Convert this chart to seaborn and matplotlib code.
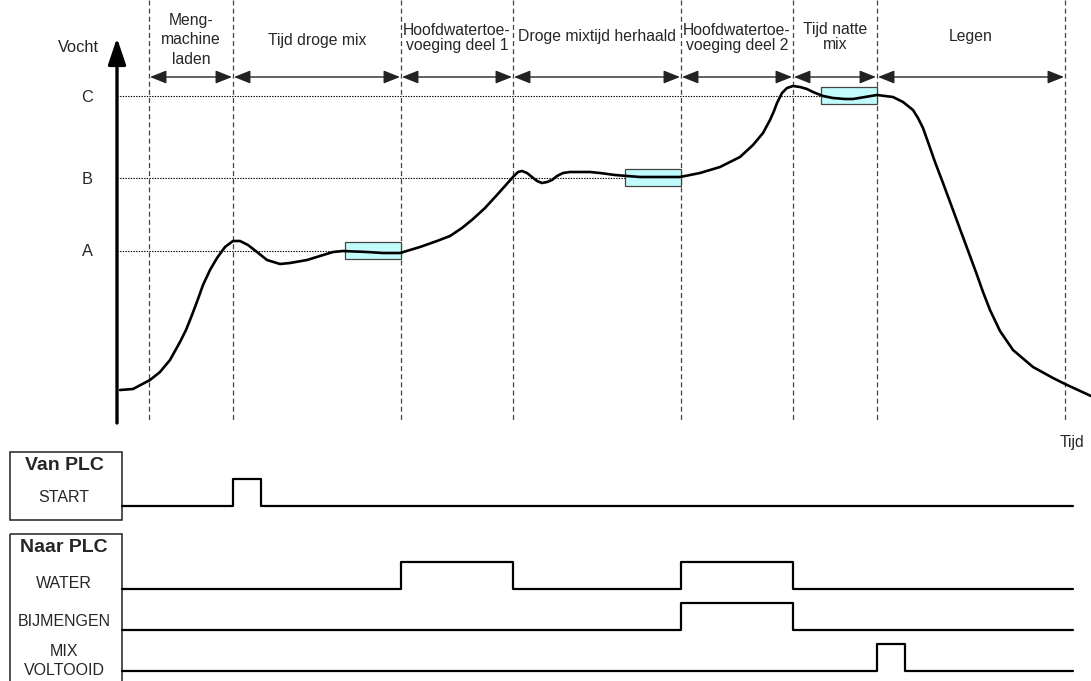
import matplotlib
matplotlib.use("Agg")
import matplotlib.pyplot as plt
import seaborn as sns
from matplotlib.patches import Rectangle

# ================= DATA (beeldcoordinaten) =================
# fasegrenzen op de tijdas
PHASE_X = [149, 233, 401, 513, 681, 793, 877, 1065]
PHASE_LABELS = ["Meng-\nmachine\nladen", "Tijd droge mix", "Hoofdwatertoe-\nvoeging deel 1",
                "Droge mixtijd herhaald", "Hoofdwatertoe-\nvoeging deel 2", "Tijd natte\nmix",
                "Legen"]
PHASE_LABEL_Y = [40, 40, 38, 36, 38, 37, 37]
PHASE_SPACING = [1.35, 1.0, 1.08, 1.0, 1.08, 1.08, 1.0]

# vochtniveaus A, B, C en de stabiele zones (vakjes)
LEVEL_NAMES = ["A", "B", "C"]
LEVEL_Y = [251, 178, 96]
BOX_X0 = [345, 625, 821]
BOX_X1 = [401, 681, 877]

# vochtcurve
CURVE_T = [120, 133, 150, 160, 170, 180, 186, 192, 198, 203, 210, 217, 225, 233, 240, 248,
           257, 267, 280, 290, 307, 320, 333, 343, 367, 383, 400, 420, 437, 450, 462,
           473, 485, 496, 505, 513, 518, 522, 527, 532, 537, 542, 547, 552, 557, 563, 570,
           577, 590, 600, 615, 627, 640, 653, 667, 680, 700, 720, 740, 753, 763, 770, 774,
           777, 782, 787, 793, 800, 807, 813, 823, 833, 845, 853, 865, 877, 893, 903, 913,
           918, 923, 928, 935, 943, 953, 960, 970, 977, 983, 990, 1000, 1013, 1033, 1053,
           1065, 1078, 1091]
CURVE_V = [390, 389, 380, 372, 360, 342, 330, 315, 299, 285, 270, 258, 247, 241, 241, 245,
           252, 260, 264, 263, 260, 256, 252, 251, 252, 253, 253, 247, 241, 236, 228,
           219, 208, 196, 186, 177, 172, 171, 173, 177, 181, 183, 182, 180, 176, 173, 172,
           172, 172, 173, 175, 176, 177, 177, 177, 177, 173, 167, 157, 145, 133, 120, 111,
           103, 93, 88, 86, 87, 89, 92, 96, 98, 99, 99, 97, 95, 97, 102, 110,
           118, 128, 142, 162, 183, 210, 229, 256, 275, 292, 310, 331, 350, 367, 378,
           384, 390, 396]

# PLC-signalen: naam, laag/hoog niveau, flanken (aan, uit, aan, uit ...)
SIG_NAMES = ["START", "WATER", "BIJMENGEN", "MIX\nVOLTOOID"]
SIG_LOW = [506, 589, 630, 671]
SIG_HIGH = [479, 562, 603, 644]
SIG_EDGES = [[233, 261], [401, 513, 681, 793], [681, 793], [877, 905]]
SIG_LABEL_Y = [497, 583, 622, 661]
SIG_START, SIG_END = 122, 1073

AXIS_X, AXIS_Y = 117, 422

# ================= TEKENEN =================
sns.set_theme(style="white")
plt.rcParams['font.family'] = ['Liberation Sans', 'DejaVu Sans']

fig = plt.figure(figsize=(10.91, 6.81), dpi=100)
ax = fig.add_axes([0, 0, 1, 1])
ax.set_xlim(0, 1091)
ax.set_ylim(681, 0)
ax.axis("off")

# fasegrenzen
ax.vlines(PHASE_X, 0, AXIS_Y, colors="#444444", lw=0.9, linestyles=(0, (4, 2.5)))

# pijlen tussen de fasen + teksten
for i in range(len(PHASE_X) - 1):
    x1, x2 = PHASE_X[i], PHASE_X[i + 1]
    ax.annotate("", xy=(x2 - 1, 77), xytext=(x1 + 1, 77),
                arrowprops=dict(arrowstyle="<|-|>,head_length=0.5,head_width=0.2",
                                mutation_scale=20, color="#222222", lw=1.0,
                                shrinkA=0, shrinkB=0))
    ax.text((x1 + x2) / 2, PHASE_LABEL_Y[i], PHASE_LABELS[i], ha="center", va="center",
            fontsize=11.3, linespacing=PHASE_SPACING[i])

# niveaulijnen en vakjes
for name, y, x0, x1 in zip(LEVEL_NAMES, LEVEL_Y, BOX_X0, BOX_X1):
    ax.hlines(y, AXIS_X, x0, colors="black", lw=0.8, linestyles=(0, (1.2, 1.2)))
    ax.text(87, y + 1, name, ha="center", va="center", fontsize=11.8)
    ax.add_patch(Rectangle((x0, y - 9), x1 - x0, 17, facecolor="#c2fbfb",
                           edgecolor="#444444", lw=0.9, zorder=2))

# assen met pijlpunten
ax.annotate("", xy=(AXIS_X, 38), xytext=(AXIS_X, AXIS_Y + 1),
            arrowprops=dict(arrowstyle="-|>,head_length=0.8,head_width=0.27",
                            mutation_scale=20, color="black", lw=2.4,
                            shrinkA=0, shrinkB=0))
ax.annotate("", xy=(1095, AXIS_Y), xytext=(AXIS_X - 1, AXIS_Y),
            arrowprops=dict(arrowstyle="-|>,head_length=0.8,head_width=0.27",
                            mutation_scale=20, color="black", lw=2.4,
                            shrinkA=0, shrinkB=0))
ax.text(78, 48, "Vocht", ha="center", va="center", fontsize=11.8)
ax.text(1072, 442, "Tijd", ha="center", va="center", fontsize=11.3)

# vochtcurve
sns.lineplot(x=CURVE_T, y=CURVE_V, ax=ax, color="black", lw=1.9, sort=False,
             estimator=None, zorder=3)

# kaders Van/Naar PLC
ax.add_patch(Rectangle((10, 452), 112, 68, facecolor="none", edgecolor="#222222", lw=1.1))
ax.add_patch(Rectangle((10, 534), 112, 160, facecolor="none", edgecolor="#222222", lw=1.1,
                       clip_on=True))
ax.text(64, 465, "Van PLC", ha="center", va="center", fontsize=14, fontweight="bold")
ax.text(64, 547, "Naar PLC", ha="center", va="center", fontsize=14, fontweight="bold")

# signalen
for name, lo, hi, edges, ly in zip(SIG_NAMES, SIG_LOW, SIG_HIGH, SIG_EDGES, SIG_LABEL_Y):
    xs = [SIG_START] + edges + [SIG_END]
    ys = [lo] + [hi if k % 2 == 0 else lo for k in range(len(edges))] + [lo]
    sns.lineplot(x=xs, y=ys, ax=ax, color="black", lw=1.6, drawstyle="steps-post",
                 sort=False, estimator=None)
    ax.text(64, ly, name, ha="center", va="center", fontsize=11.5, linespacing=1.35)

fig.savefig("out.png", dpi=100)
